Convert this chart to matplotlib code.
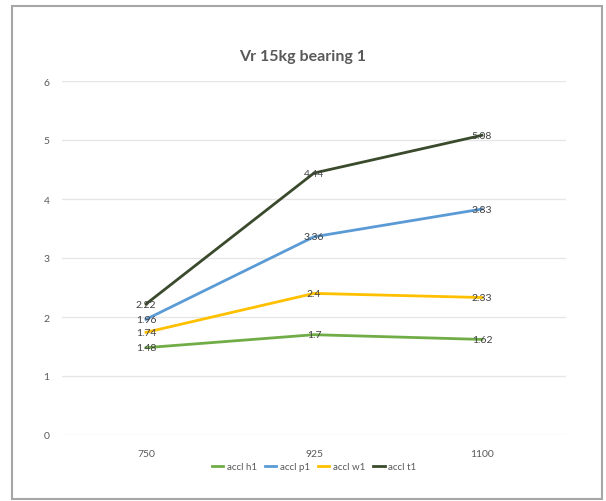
import matplotlib.pyplot as plt
from matplotlib.patches import Rectangle

# Data
speeds = ['750', '925', '1100']
accl_h1 = [1.48, 1.7, 1.62]
accl_p1 = [1.96, 3.36, 3.83]
accl_w1 = [1.74, 2.4, 2.33]
accl_t1 = [2.22, 4.44, 5.08]

series = [
    ('accl h1', accl_h1, '#70AD47'),
    ('accl p1', accl_p1, '#5B9BD5'),
    ('accl w1', accl_w1, '#FFC000'),
    ('accl t1', accl_t1, '#3A4A2C'),
]

plt.rcParams['font.family'] = ['Lato', 'DejaVu Sans']

fig = plt.figure(figsize=(6.06, 5.02), dpi=100)
ax = fig.add_axes([62 / 606, 1 - 436 / 502, 504 / 606, 354 / 502])

# outer chart border
fig.patches.append(Rectangle((12 / 606, 1 - 500 / 502), 590 / 606, 493 / 502,
                             transform=fig.transFigure, fill=False,
                             edgecolor='#A6A6A6', linewidth=1.5))

x = list(range(len(speeds)))
for name, vals, color in series:
    ax.plot(x, vals, color=color, linewidth=2.0, label=name, zorder=3)
    for xi, v in zip(x, vals):
        ax.text(xi, v, f'{v:g}', ha='center', va='center', fontsize=7.5,
                color='#404040', zorder=4)

ax.set_xlim(-0.5, 2.5)
ax.set_ylim(0, 6)
ax.set_yticks(range(0, 7))
ax.set_xticks(x)
ax.set_xticklabels(speeds)
ax.tick_params(length=0, labelsize=7.5, colors='#595959')
ax.tick_params(axis='y', pad=9)
ax.tick_params(axis='x', pad=10)
ax.grid(axis='y', color='#E6E6E6', linewidth=1)
ax.set_axisbelow(True)
for s in ax.spines.values():
    s.set_visible(False)

fig.text(0.5, 1 - 57 / 502, 'Vr 15kg bearing 1', ha='center', va='center',
         fontsize=11.5, fontweight='bold', color='#595959')

ax.legend(loc='center', bbox_to_anchor=(0.5, -0.09), ncol=4, frameon=False,
          fontsize=7, handlelength=1.2, handletextpad=0.35, columnspacing=0.8,
          labelcolor='#595959')

plt.savefig('out.png', dpi=100)
